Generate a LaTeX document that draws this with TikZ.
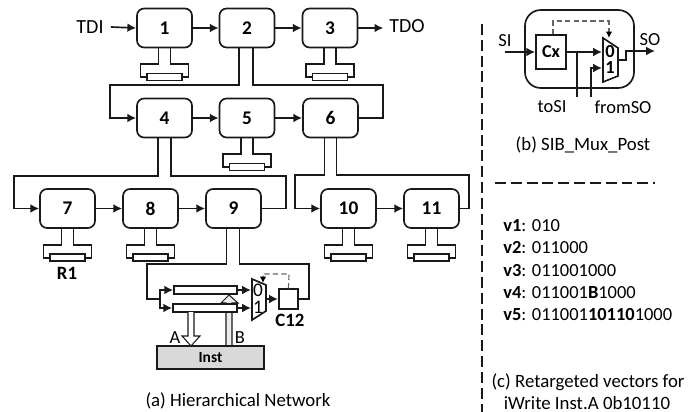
\documentclass[tikz,border=0pt]{standalone}
\usepackage{fontspec}
\setmainfont{Carlito}
\usetikzlibrary{arrows.meta, positioning, calc}
\newcommand{\scanreg}[1]{% #1=name of the box above
  \draw[wire] ([xshift=-0.12cm]#1.south) -- ++(0,16) -- ++(-18,0) -- ++(0,13) -- ++(48,0)
    -- ++(0,-13) -- ++(-18,0) -- ++(0,-16);
  \node[regbox] (r#1) at ([yshift=-0.57cm]#1.south) {};}

\begin{document}
\begin{tikzpicture}[
  x=0.02cm, y=-0.02cm,
  font=\fontsize{10.5}{13}\selectfont, >={Latex[length=5pt,width=5pt]},
  wire/.style={line width=0.95pt, black!90},
  flow/.style={->, wire},
  sib/.style={draw=black!90, line width=0.95pt, rounded corners=4pt, minimum width=1.1cm, minimum height=0.78cm,
    inner sep=0pt, font=\fontsize{11}{13}\selectfont\bfseries},
  regbox/.style={draw=black!90, fill=white, line width=0.8pt, minimum width=0.7cm, minimum height=0.14cm, inner sep=0pt},
  sreg/.style={draw=black!90, fill=white, line width=0.95pt, inner sep=0pt, minimum height=0.16cm},
  ctl/.style={-{Latex[length=3.6pt,width=3.6pt,black]}, line width=0.65pt, black!60, dash pattern=on 3pt off 1.8pt},
  sep/.style={line width=0.7pt, black!90, dash pattern=on 6.2pt off 2.8pt},
  biglabel/.style={inner sep=0pt, font=\fontsize{11.4}{13}\selectfont},
  boldlabel/.style={inner sep=0pt, font=\fontsize{10.7}{13}\selectfont\bfseries},
  captext/.style={inner sep=0pt, font=\fontsize{10.7}{13}\selectfont},
  vec/.style={anchor=west, inner sep=0pt},
  bit/.style={inner sep=0pt, font=\fontsize{11}{11}\selectfont},
]
\useasboundingbox (0,0) rectangle (697,412);

% ---------- SCAN NETWORK BOXES ----------
\foreach \name/\cx/\cy/\txt in {b1/164.5/28/1, b2/247/28/2, b3/330/28/3,
    b4/164.5/118/4, b5/247/118/5, b6/330.5/118/6,
    b7/67.5/208.5/7, b8/150.5/208.5/8, b9/233.5/208.5/9, b10/348.5/208.5/10, b11/431.5/208.5/11}{%
  \node[sib] (\name) at (\cx,\cy) {\txt};}
\foreach \name in {b1,b3,b5,b7,b8,b10,b11}{\scanreg{\name}}

\node[biglabel] (tdi) at (90,27) {TDI};
\node[biglabel] (tdo) at (407,26) {TDO};
\node[boldlabel] (r1) at (67,273) {R1};

% ---------- CHAIN ARROWS ----------
\draw[flow] (tdi.east)++(7,0) -- (b1.west);
\draw[flow] (b3.east) -- ([xshift=0.5cm]b3.east);
\foreach \from/\to in {b1/b2, b2/b3, b4/b5, b5/b6, b7/b8, b8/b9, b10/b11}{%
  \draw[flow] (\from) -- (\to);}

% ---------- BRANCHES ----------
\coordinate (c24) at (110,85);
\coordinate (c26) at (383,85);
\coordinate (c47) at (14,176);
\coordinate (c49) at (286,176);
\coordinate (c610) at (295,175);
\coordinate (c611) at (469,175);
\coordinate (c9l) at (147,264);
\coordinate (c9r) at (309,264);
\draw[flow] ([xshift=-0.16cm]b2.south) |- (c24) |- (b4.west);
\draw[wire] ([xshift=0.12cm]b2.south) |- (c26) |- (b6.east);
\draw[flow] ([xshift=-0.13cm]b4.south) |- (c47) |- (b7.west);
\draw[wire] ([xshift=0.13cm]b4.south) |- (c49) |- (b9.east);
\draw[flow] ([xshift=-0.12cm]b6.south) |- (c610) |- (b10.west);
\draw[wire] ([xshift=0.12cm]b6.south) |- (c611) |- (b11.east);

% ---------- SEGMENT C12 ----------
\draw[line width=0.6pt, black!90, fill=black!8] (226,346) -- (226,303) -- (221,303) -- (229,295) -- (238,303) -- (232,303) -- (232,346);
\node[sreg, minimum width=1.26cm] (sr1) at (205.5,290) {};
\node[sreg, minimum width=1.28cm] (sr2) at (205,308) {};
\draw[wire, fill=white] (252,279) coordinate (m1) -- (266,285) -- (266,311) -- (252,320) -- cycle;
\node[bit] (m1a) at (258,290.5) {0};
\node[bit] (m1b) at (258,307.5) {1};
\node[draw=black!90, line width=0.95pt, minimum size=0.39cm, inner sep=0pt] (c12) at (288.5,299) {};
\node[boldlabel] (c12t) at (290,320) {C12};
\coordinate (mi1) at (251,290);
\coordinate (mi2) at (251,308);
\coordinate (mo) at (266,299);
\coordinate (sp) at (160,299);
\coordinate (mt) at (263,283);
\draw[wire] ([xshift=-0.14cm]b9.south) |- (c9l) |- (sp);
\draw[wire] ([xshift=0.12cm]b9.south) |- (c9r) |- (c12.east);
\draw[flow] (sp) |- (sr1.west);
\draw[flow] (sp) |- (sr2.west);
\draw[flow] (sr1.east) -- (mi1);
\draw[flow] (sr2.east) -- (mi2);
\draw[flow] (mo) -- (c12.west);
\draw[ctl] (c12.north) -- (289,274) -| (mt);

\node[draw=black!90, fill=black!15, line width=0.95pt, minimum width=2.14cm, minimum height=0.46cm, inner sep=0pt,
  font=\fontsize{8.8}{11}\selectfont\bfseries] (inst) at (210.5,357.5) {Inst};
\draw[line width=0.6pt, black!90, fill=white] (188,312) -- (188,336) -- (182,336) -- (191,346) -- (200,336) -- (194,336) -- (194,312);
\node[inner sep=0pt] (pa) at (175,338) {A};
\node[inner sep=0pt] (pb) at (240,338) {B};
\node[captext] (capa) at (238,401) {(a) Hierarchical Network};

% ---------- SIB DETAIL ----------
\node[draw=black!90, line width=0.95pt, rounded corners=9pt, minimum width=2.18cm, minimum height=1.56cm, inner sep=0pt] (sibx) at (579.5,49) {};
\node[draw=black!90, line width=0.95pt, minimum width=0.6cm, minimum height=0.68cm, inner sep=0pt,
  font=\fontsize{10.3}{13}\selectfont\bfseries] (cx) at (551,52) {Cx};
\draw[wire] (603,38) -- (618,48) -- (618,76) -- (603,82) -- cycle;
\node[bit, font=\fontsize{10.5}{11}\selectfont\bfseries] (m2a) at (610,52) {0};
\node[bit, font=\fontsize{10.5}{11}\selectfont\bfseries] (m2b) at (610,67.5) {1};
\node[inner sep=0pt] (si) at (505,41) {SI};
\node[inner sep=0pt] (so) at (650,40) {SO};
\node[inner sep=0pt] (tosi) at (552,107) {toSI};
\node[inner sep=0pt] (fromso) at (623,107) {fromSO};
\coordinate (sii) at (505,52);
\coordinate (m2i) at (602,52);
\coordinate (m2j) at (602,68);
\coordinate (m2o) at (618,60);
\coordinate (soo) at (655,51);
\coordinate (tap) at (577,52);
\coordinate (to1) at (577,97);
\coordinate (fr1) at (591,97);
\coordinate (m2t) at (609,38);
\draw[flow] (sii) -- (cx.west);
\draw[flow] (cx.east |- m2i) -- (m2i);
\draw[wire] (tap) -- (to1);
\draw[flow] (fr1) |- (m2j);
\draw[flow] (m2o) -- ++(8,0) |- (soo);
\draw[ctl] ([xshift=0.04cm]cx.north) |- (553,21) -| (m2t);
\node[captext] (capb) at (583,145) {(b) SIB\_Mux\_Post};

% ---------- SEPARATORS ----------
\coordinate (v1) at (482,24);
\coordinate (v2) at (482,412);
\coordinate (h1) at (495,183);
\coordinate (h2) at (655,183);
\draw[sep] (v1) -- (v2);
\draw[sep] (h1) -- (h2);

% ---------- VECTORS ----------
\node[vec] (vec1) at (503,226) {\textbf{v1}: 010};
\node[vec] (vec2) at (503,248) {\textbf{v2}: 011000};
\node[vec] (vec3) at (503,271) {\textbf{v3}: 011001000};
\node[vec] (vec4) at (503,293) {\textbf{v4}: 011001\textbf{B}1000};
\node[vec] (vec5) at (503,315) {\textbf{v5}: 011001\textbf{10110}1000};
\node[captext] (capc) at (588,382) {(c) Retargeted vectors for};
\node[captext] (capd) at (587,403) {iWrite Inst.A 0b10110};
\end{tikzpicture}
\end{document}
